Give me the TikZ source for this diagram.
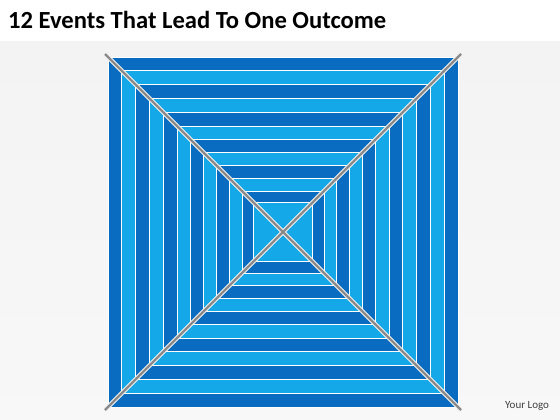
\documentclass[tikz,border=0pt]{standalone}
\usepackage{fontspec}
\setmainfont{Carlito}
\usetikzlibrary{calc}
\definecolor{darkb}{HTML}{0A6CC0}
\definecolor{lightb}{HTML}{14A8E8}
\definecolor{bgg}{HTML}{F3F3F3}
\definecolor{diag}{HTML}{8A8A8A}
\begin{document}
\begin{tikzpicture}[x=1pt,y=-1pt,
  ringd/.style={fill=darkb,draw=white,line width=0.8pt},
  ringl/.style={fill=lightb,draw=white,line width=0.8pt},
  diagw/.style={draw=white!90!gray,line width=4.5pt},
  diagg/.style={draw=diag,line width=2.4pt},
  ttl/.style={anchor=base west,inner sep=0pt,font=\bfseries\fontsize{24.6}{28}\selectfont,text=black},
  logo/.style={anchor=base west,inner sep=0pt,font=\fontsize{11}{13}\selectfont,text=black!75}]
\useasboundingbox (0,0) rectangle (560,420);
\fill[white] (0,0) rectangle (560,420);
\shade[top color=bgg, bottom color=bgg!60!white] (0,42) rectangle (560,420);
\node[ttl] (title) at (8,29) {12 Events That Lead To One Outcome};
\coordinate (c) at (283,232);
\foreach \h [count=\i from 0] in {175,161.5,147.5,133.5,119.5,106,92.5,79.5,66.5,53.5,41,29.5}{
  \pgfmathtruncatemacro{\odd}{mod(\i,2)}
  \ifnum\odd=0
    \path[ringd] ($(c)+(-\h,-\h)$) rectangle ($(c)+(\h,\h)$);
  \else
    \path[ringl] ($(c)+(-\h,-\h)$) rectangle ($(c)+(\h,\h)$);
  \fi
}
\coordinate (tl) at (105,54);
\coordinate (br) at (461,410);
\coordinate (tr) at (461,54);
\coordinate (bl) at (105,410);
\draw[diagw] (tl) -- (br);
\draw[diagw] (tr) -- (bl);
\draw[diagg] (tl) -- (br);
\draw[diagg] (tr) -- (bl);
\node[logo] (logo) at (505,408) {Your Logo};
\end{tikzpicture}
\end{document}
